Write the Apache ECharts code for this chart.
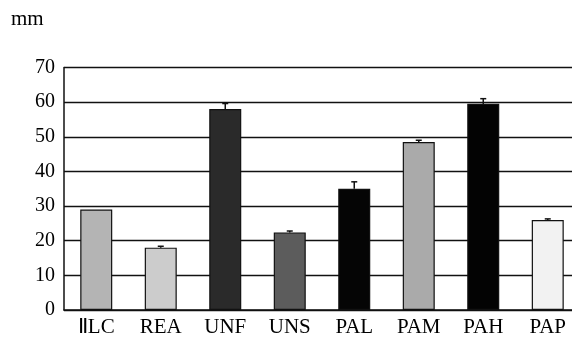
<!DOCTYPE html>
<html><head><meta charset="utf-8">
<script src="https://cdn.jsdelivr.net/npm/echarts@6/dist/echarts.min.js"></script>
<style>html,body{margin:0;padding:0;background:#fff}#c{width:572px;height:338px}</style>
</head><body><div id="c"></div>
<script>
const categories = ['ⅡLC','REA','UNF','UNS','PAL','PAM','PAH','PAP'];
const values = [29, 18, 58, 22.4, 35, 48.5, 59.5, 26];
const errors = [0, 0.4, 1.6, 0.4, 2, 0.5, 1.5, 0.3];
const barColors = ['#b4b4b4','#cccccc','#2a2a2a','#5c5c5c','#050505','#aaaaaa','#030303','#f2f2f2'];
const yTicks = [0,10,20,30,40,50,60,70];

const chart = echarts.init(document.getElementById('c'), null, {renderer:'canvas'});
const font = 'Liberation Serif';
chart.setOption({
  animation:false,
  backgroundColor:'#fff',
  graphic:[{type:'text', left:11, top:9, style:{text:'mm', font:'21px "Liberation Serif"', fill:'#000'}}],
  grid:{left:64, right:-8, top:67.5, bottom:28, containLabel:false, outerBoundsMode:'none'},
  xAxis:{type:'category', data:categories,
    axisLine:{lineStyle:{color:'#111', width:1.5}},
    axisTick:{inside:true, length:4, lineStyle:{color:'#111'}},
    axisLabel:{color:'#000', fontFamily:font, fontSize:21, margin:7}},
  yAxis:{type:'value', min:yTicks[0], max:yTicks[yTicks.length-1], interval:10,
    axisLine:{show:true, lineStyle:{color:'#111', width:1.5}},
    axisTick:{show:false},
    splitLine:{lineStyle:{color:'#111', width:1.3}},
    axisLabel:{color:'#000', fontFamily:font, fontSize:20, margin:9}},
  series:[
    {type:'bar', barWidth:32, z:2,
     data: values.map((v,i)=>({value:v, itemStyle:{color:barColors[i], borderColor:'#111', borderWidth:1.2}}))},
    {type:'custom', z:3,
     data: values.map((v,i)=>[i, v, v+errors[i]]),
     renderItem:function(params, api){
       if (api.value(2) - api.value(1) <= 0) return {type:'group', children:[]};
       const p0 = api.coord([api.value(0), api.value(1)]);
       const p1 = api.coord([api.value(0), api.value(2)]);
       return {type:'group', children:[
         {type:'line', shape:{x1:p0[0], y1:p0[1], x2:p1[0], y2:p1[1]}, style:{stroke:'#111', lineWidth:1.5}},
         {type:'line', shape:{x1:p1[0]-3, y1:p1[1], x2:p1[0]+3, y2:p1[1]}, style:{stroke:'#111', lineWidth:1.5}}
       ]};
     }}
  ]
});
</script></body></html>
